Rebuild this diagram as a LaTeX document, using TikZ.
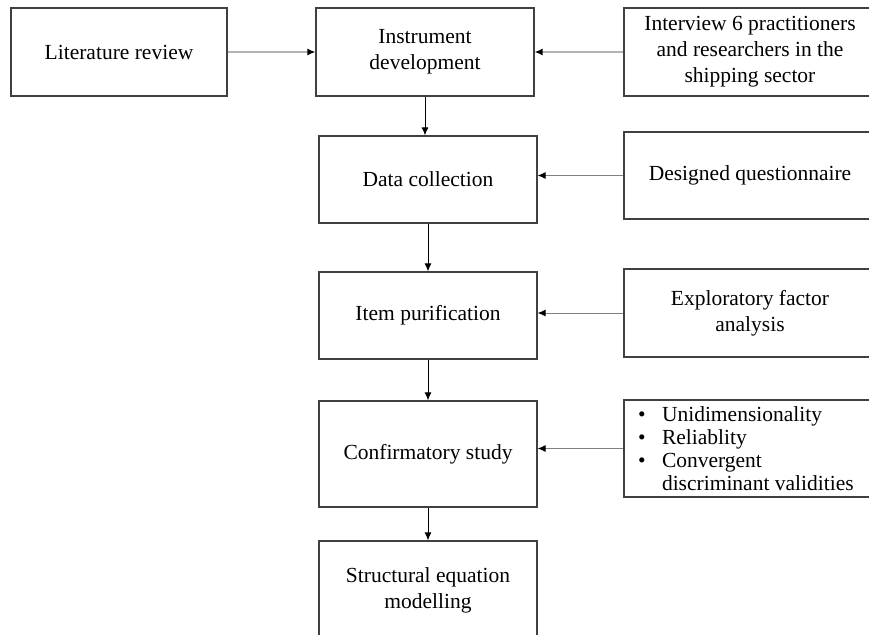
\documentclass[tikz,border=0pt]{standalone}
\usepackage{fontspec}
\setmainfont{Liberation Serif}
\usetikzlibrary{arrows.meta}

\begin{document}
\begin{tikzpicture} [x = 1pt, y = -1pt,
	box/.style = {draw = black!75, line width = 1.2pt, align = center, inner sep = 0pt,
		font = \fontsize{21.5}{26}\selectfont},
	mainbox/.style = {box, minimum width = 218pt, minimum height = 87pt},
	sidebox/.style = {box, minimum width = 252pt, minimum height = 88pt},
	flow/.style = {line width = 1pt, -{Latex[length = 8pt, width = 7pt]}},
	feed/.style = {flow, draw = black!50, -{Latex[black, length = 8pt, width = 7pt]}}]
	\useasboundingbox (0,0) rectangle (869,634);
	% middle column
	\node [mainbox, minimum height = 88pt] (inst) at (425,52) {Instrument\\development};
	\node [mainbox] (data) at (428,179.5) {Data collection};
	\node [mainbox] (item) at (428,315.5) {Item purification};
	\node [mainbox, minimum height = 106pt] (conf) at (428,454) {Confirmatory study};
	\node [mainbox, minimum height = 98pt] (sem) at (428,590) {Structural equation\\modelling};
	% left and right inputs
	\node [box, minimum width = 216pt, minimum height = 88pt] (lit) at (119,52) {Literature review};
	\node [sidebox] (intv) at (750,52) {Interview 6 practitioners\\and researchers in the\\shipping sector};
	\node [sidebox, minimum height = 87pt] (quest) at (750,175.5) {Designed questionnaire};
	\node [sidebox] (efa) at (750,313) {Exploratory factor\\analysis};
	\node [sidebox, minimum height = 97pt, inner xsep = 14pt, text width = 224pt, align = flush left,
		font = \fontsize{21.5}{23}\selectfont] (valid) at (750,448.5)
		{\makebox[24pt][l]{\textbullet}Unidimensionality\\
		 \makebox[24pt][l]{\textbullet}Reliablity\\
		 \makebox[24pt][l]{\textbullet}Convergent\\
		 \hspace*{24pt}discriminant validities};
	% arrows
	\draw [feed, draw = black!30, line width = 1.4pt] (lit.east) -- (inst.west);
	\draw [feed, draw = black!30, line width = 1.4pt] (intv.west) -- (inst.east);
	\draw [feed] (quest.west) -- (quest.west -| data.east);
	\draw [feed] (efa.west) -- (efa.west -| item.east);
	\draw [feed] (valid.west) -- (valid.west -| conf.east);
	\draw [flow] (inst.south) -- (inst.south |- data.north);
	\draw [flow] (data.south) -- (item.north);
	\draw [flow] (item.south) -- (conf.north);
	\draw [flow] (conf.south) -- (sem.north);
\end{tikzpicture}
\end{document}
